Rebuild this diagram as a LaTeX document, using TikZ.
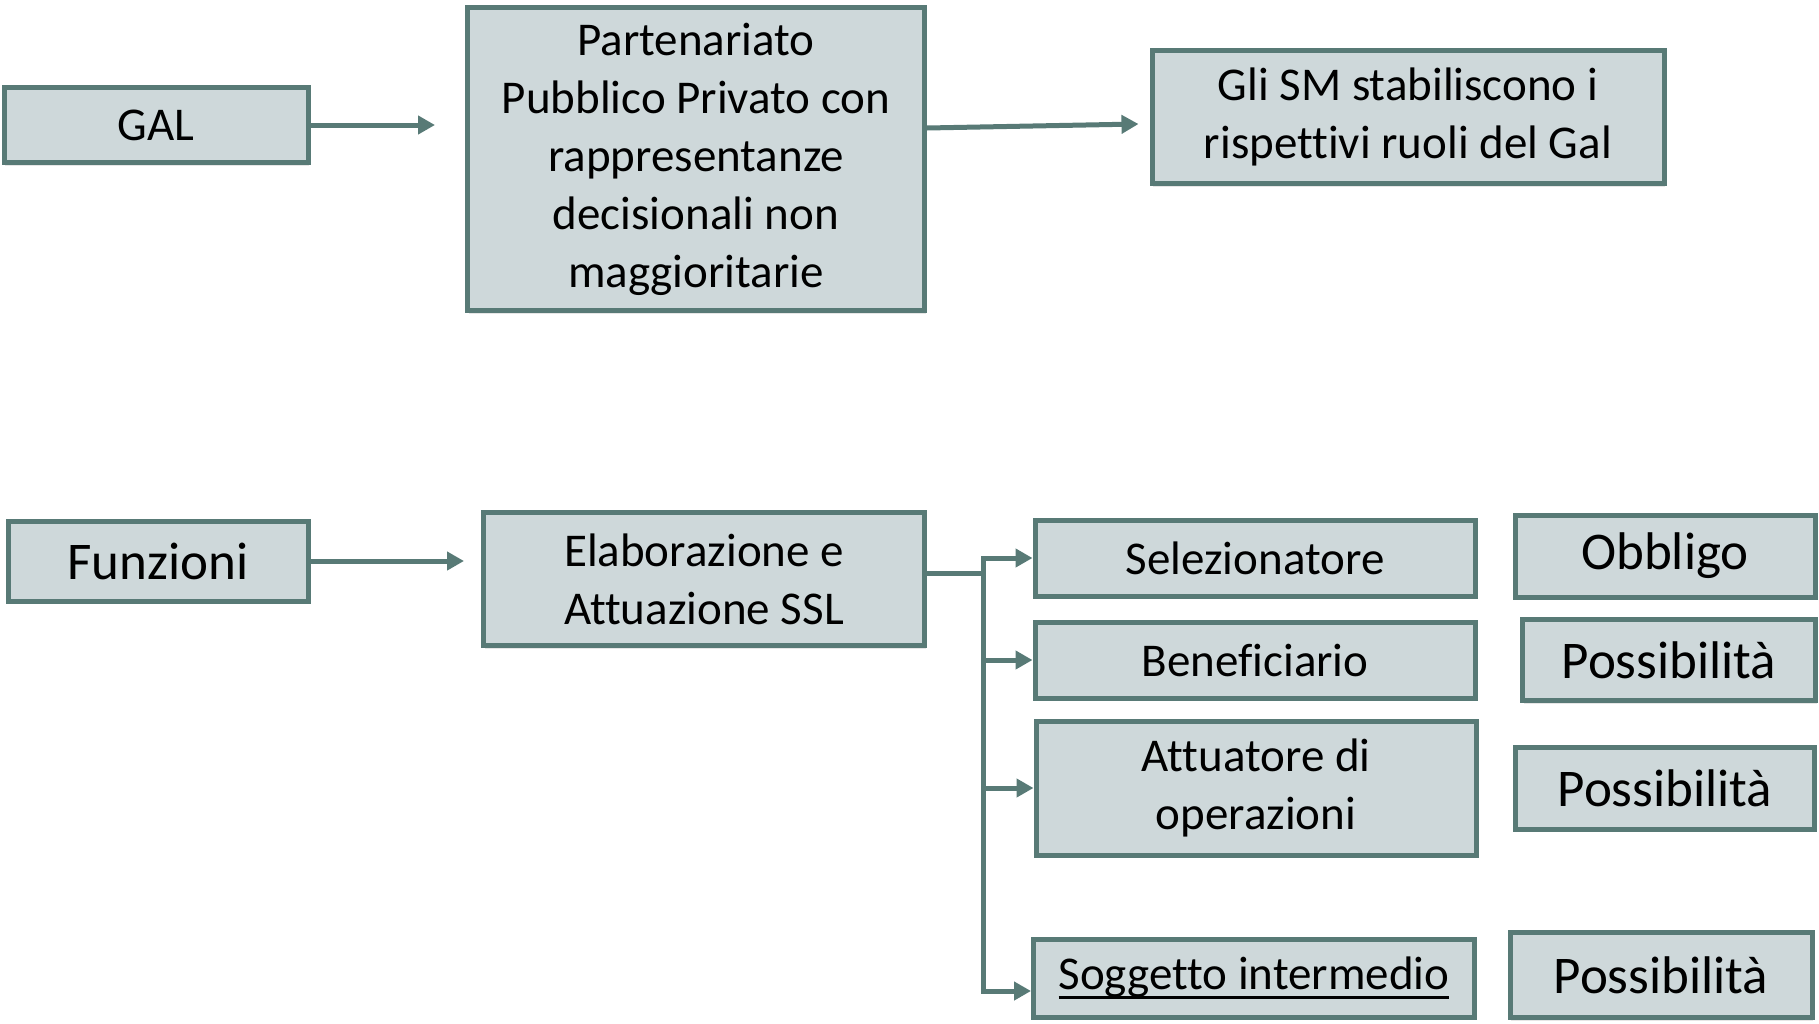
\documentclass[tikz,border=0pt]{standalone}
\usepackage{fontspec}
\setmainfont{Carlito}[Ligatures=NoCommon]
\usetikzlibrary{positioning, arrows.meta, shadows}
\definecolor{boxFill}{HTML}{CED8DA}
\definecolor{boxLine}{HTML}{587A76}
\newcommand{\thickUnder}[1]{\setbox0\hbox{#1}\rlap{\rule[-9pt]{\wd0}{2.5pt}}\box0}
\begin{document}
\begin{tikzpicture}[
        x=1pt, y=1pt,
        boxNode/.style={rectangle, draw=boxLine, fill=boxFill, line width=5pt, inner sep=0pt, align=center,
            font=\fontsize{47}{58}\selectfont,
            drop shadow={shadow xshift=1pt, shadow yshift=-3pt, opacity=0.2}},
        wordNode/.style={boxNode, font=\fontsize{53}{58}\selectfont},
        arrowLine/.style={draw=boxLine, line width=5pt, -{Triangle[length=17pt, width=18pt]}},
        plainLine/.style={draw=boxLine, line width=5pt}
    ]
        \useasboundingbox (0,0) rectangle (1819,-1023);

        % Top row
        \node[boxNode, minimum width=304, minimum height=75] (gal) at (156,-125) {GAL};
        \node[boxNode, minimum width=457, minimum height=303] (ppp) at (696,-159)
            {Partenariato\\Pubblico Privato con\\rappresentanze\\decisionali non\\maggioritarie};
        \node[boxNode, minimum width=512, minimum height=133] (gli) at (1408,-117)
            {Gli SM stabiliscono i\\rispettivi ruoli del Gal};
        \coordinate (galEnd) at (435,-125);

        % Bottom row
        \node[wordNode, minimum width=300, minimum height=80] (funz) at (158,-561) {Funzioni};
        \node[boxNode, minimum width=441, minimum height=133] (elab) at (704,-579)
            {Elaborazione e\\Attuazione SSL};

        % Roles
        \node[boxNode, minimum width=440, minimum height=76] (sel) at (1255,-558) {Selezionatore};
        \node[boxNode, minimum width=440, minimum height=76] (ben) at (1255,-660) {Beneficiario};
        \node[boxNode, minimum width=440, minimum height=134] (att) at (1256,-788) {Attuatore di\\operazioni};
        \node[boxNode, minimum width=441, minimum height=78] (sog) at (1254,-978) {\thickUnder{Soggetto intermedio}};

        % Obbligo / Possibilita
        \node[wordNode, minimum width=300, minimum height=82] (obb) at (1665,-556) {Obbligo};
        \node[wordNode, minimum width=293, minimum height=81] (pos1) at (1669,-660) {Possibilità};
        \node[wordNode, minimum width=299, minimum height=82] (pos2) at (1665,-788) {Possibilità};
        \node[wordNode, minimum width=302, minimum height=85] (pos3) at (1661,-975) {Possibilità};

        % Edges
        \draw[arrowLine] (gal.east) -- (galEnd);
        \draw[arrowLine] ([yshift=31pt]ppp.east) -- ([xshift=-11pt, yshift=-7pt]gli.west);
        \draw[arrowLine] (funz.east) -- ([xshift=-17pt, yshift=18pt]elab.west);

        \coordinate (trunk) at (983,-573);
        \draw[plainLine] ([yshift=6pt]elab.east) -- (trunk);
        \draw[arrowLine] (trunk) |- (sel.west);
        \draw[arrowLine] (trunk) |- (ben.west);
        \draw[arrowLine] (trunk) |- (att.west);
        \draw[arrowLine] (trunk) |- ([yshift=-13pt]sog.west);
    \end{tikzpicture}
\end{document}
